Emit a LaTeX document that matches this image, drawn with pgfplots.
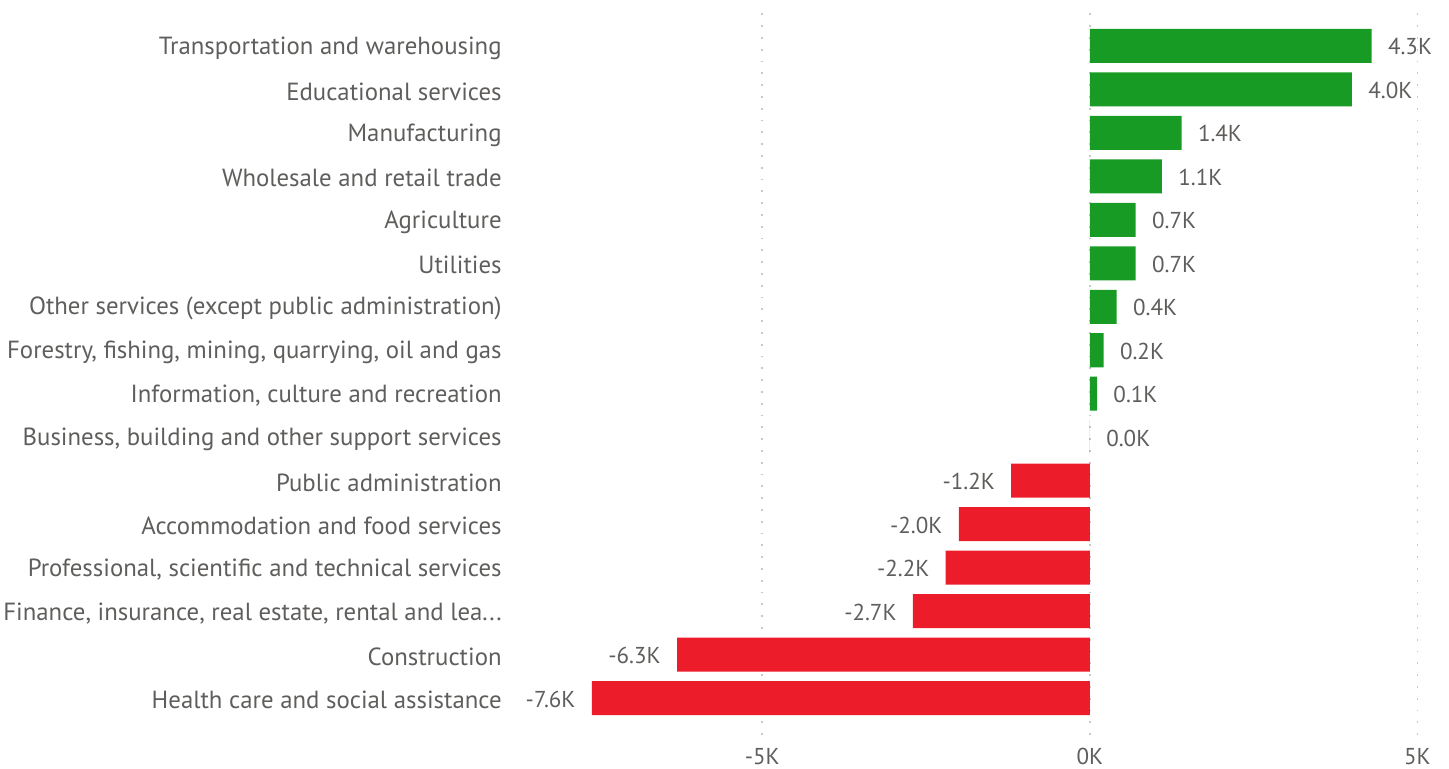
\documentclass[border=0pt]{standalone}
\usepackage{fontspec}
\setmainfont{PT Sans}
\usepackage{pgfplots}
\pgfplotsset{compat=1.18}
\definecolor{posgreen}{HTML}{189B24}
\definecolor{negred}{HTML}{ED1C2A}
\definecolor{txtgray}{HTML}{5F5E5C}
\definecolor{gridgray}{HTML}{C8C8C8}
\begin{document}
\begin{tikzpicture}
\useasboundingbox (0,0) rectangle (724.5pt,384pt);
\begin{axis}[
  at={(255pt,16.5pt)}, anchor=south west,
  scale only axis,
  width=457pt, height=361.5pt,
  xbar, bar width=17pt, bar shift=0pt,
  xmin=-8.85, xmax=5.1,
  ymin=-0.85, ymax=15.78,
  axis line style={draw=none},
  tick style={draw=none},
  xtick={-5,0,5}, xticklabels={-5K,0K,5K},
  xmajorgrids, grid style={gridgray, line width=0.9pt, dash pattern=on 0.9pt off 5pt},
  ytick={0,1,2,3,4,5,6,7,8,9,10,11,12,13,14,15},
  yticklabels={Health care and social assistance,Construction,{Finance, insurance, real estate, rental and lea{.}{.}{.}},{Professional, scientific and technical services},Accommodation and food services,Public administration,{Business, building and other support services},{Information, culture and recreation},{Forestry, fishing, mining, quarrying, oil and gas},Other services (except public administration),Utilities,Agriculture,Wholesale and retail trade,Manufacturing,Educational services,Transportation and warehousing},
  major tick length=0pt,
  every tick label/.append style={font=\fontsize{11.5pt}{13pt}\selectfont, text=txtgray},
  yticklabel style={anchor=east, inner xsep=0pt, xshift=-4pt, yshift=-1pt, font=\fontsize{12.4pt}{14pt}\selectfont},
  xticklabel style={yshift=-3pt},
  clip=false,
  nodes near coords={\pgfmathprintnumber[fixed,fixed zerofill,precision=1,assume math mode=true]{\pgfplotspointmeta}K},
  every node near coord/.append style={font=\fontsize{11.5pt}{13pt}\selectfont, text=txtgray, inner xsep=8pt, yshift=-0.5pt},
  nodes near coords align=horizontal,
]
\addplot[fill=posgreen, draw=none] coordinates {
  (4.3,15) (4.0,14) (1.4,13) (1.1,12) (0.7,11) (0.7,10)
  (0.41,9) (0.21,8) (0.11,7) (0.0,6)};
\addplot[fill=negred, draw=none] coordinates {
  (-1.2,5) (-2.0,4) (-2.2,3) (-2.7,2) (-6.3,1) (-7.6,0)};
\end{axis}
\end{tikzpicture}
\end{document}
